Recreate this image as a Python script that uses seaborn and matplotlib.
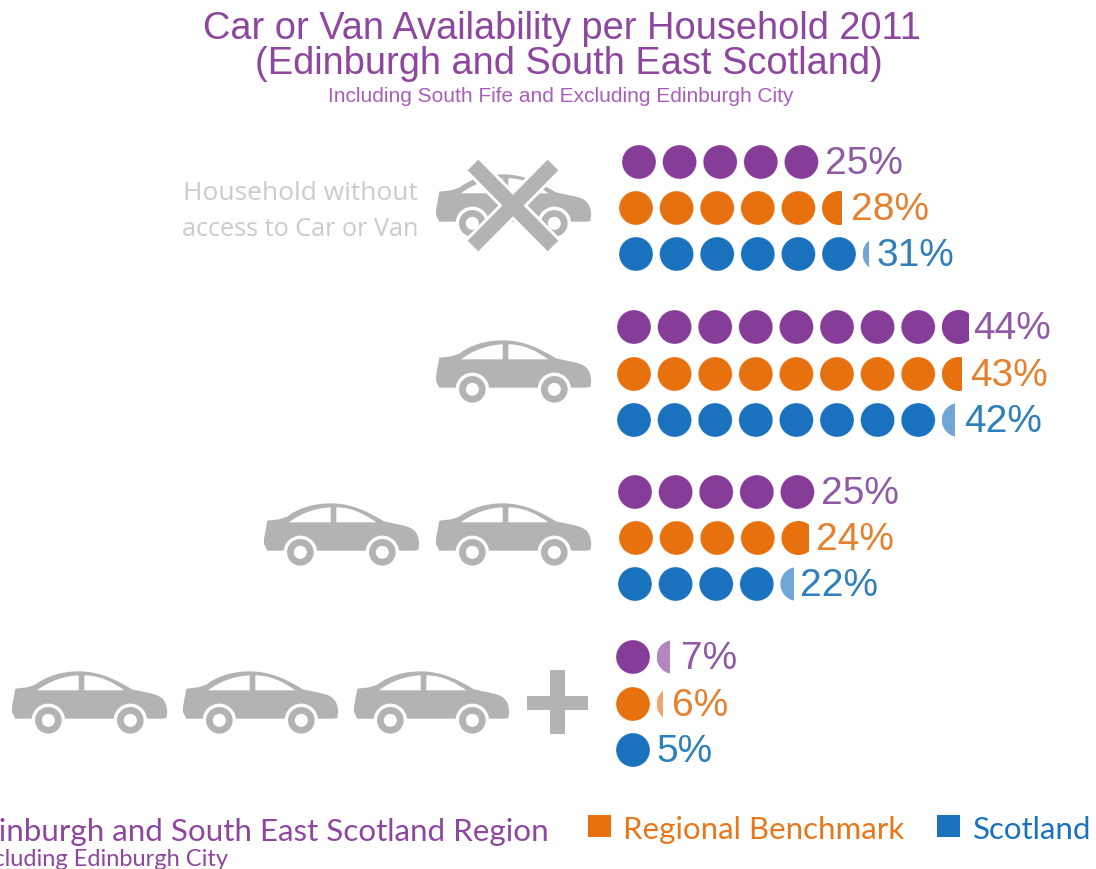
import matplotlib
matplotlib.use("Agg")
import matplotlib.pyplot as plt
from matplotlib.patches import Circle, PathPatch, Rectangle
from matplotlib.path import Path
import pandas as pd
import seaborn as sns

# ---- data ----
series = ["Edinburgh and South East Scotland Region", "Regional Benchmark", "Scotland"]
no_car = [25, 28, 31]
one_car = [44, 43, 42]
two_cars = [25, 24, 22]
three_plus = [7, 6, 5]
percent_per_dot = 5
title_lines = ["Car or Van Availability per Household 2011", "(Edinburgh and South East Scotland)"]
subtitle_text = "Including South Fife and Excluding Edinburgh City"
legend_sub = "Excluding Edinburgh City"

# ---- layout / style ----
PURPLE, ORANGE, BLUE, GREY = "#853D97", "#E8710F", "#1A72BE", "#B3B3B3"
palette = dict(zip(series, [PURPLE, ORANGE, BLUE]))
text_cols = dict(zip(series, ["#8F5AA3", "#E5812E", "#2F80BA"]))
SPACING, DIAM = 40.6, 34
groups = [
    (no_car, [163, 209, 255], [639, 636, 636], [825, 851, 877]),
    (one_car, [328, 375, 421], [634, 634, 634], [973, 970, 964]),
    (two_cars, [493, 539, 585], [635, 636, 635], [821, 816, 800]),
    (three_plus, [658, 705, 751], [633, 633, 633], [681, 672, 656]),
]

sns.set_theme(style="white")
plt.rcParams["font.family"] = ["Liberation Sans", "DejaVu Sans"]
fig = plt.figure(figsize=(10.96, 8.7), dpi=100)
ax = fig.add_axes([0, 0, 1, 1])

# dots: one dot per five percent, remainder is a clipped dot
rows = []
for values, ys, xs, lx in groups:
    for name, v, y, x0, tx in zip(series, values, ys, xs, lx):
        n = v // percent_per_dot
        frac = (v % percent_per_dot) / percent_per_dot
        for i in range(n):
            rows.append({"x": x0 + i * SPACING, "y": y, "series": name})
        if frac:
            cx = x0 + n * SPACING
            c = Circle((cx, y), DIAM / 2, fc=palette[name], ec="none",
                       alpha=1 if frac >= 0.5 else 0.62)
            ax.add_patch(c)
            c.set_clip_path(Rectangle((cx - DIAM / 2, y - DIAM), DIAM * frac, 2 * DIAM,
                                      transform=ax.transData))
        ax.text(tx, y + 1.5, f"{v}%", color=text_cols[name], fontsize=28,
                ha="left", va="center")
df = pd.DataFrame(rows)
sns.scatterplot(data=df, x="x", y="y", hue="series", palette=palette, s=(DIAM * 0.72) ** 2,
                linewidth=0.5, edgecolor="#ffffff66", legend=False, ax=ax, zorder=3, clip_on=False)
ax.set_xlim(0, 1096)
ax.set_ylim(870, 0)
ax.axis("off")

# car pictogram (outline in a 3x local grid)
M, L, C = Path.MOVETO, Path.LINETO, Path.CURVE4
body = [((15, 125), M), ((25, 70), L), ((60, 66), L), ((85, 58), L),
        ((120, 30), C), ((170, 18), C), ((215, 18), C),
        ((280, 18), C), ((330, 45), C), ((375, 72), C),
        ((410, 80), C), ((440, 84), C), ((455, 92), C),
        ((475, 102), C), ((482, 125), C), ((480, 145), C),
        ((478, 158), L), ((465, 160), L), ((25, 160), L), ((15, 140), L), ((15, 125), L)]
win1 = [((90, 75), M), ((125, 48), C), ((170, 32), C), ((215, 30), C), ((215, 75), L), ((90, 75), L)]
win2 = [((232, 30), M), ((280, 30), C), ((320, 52), C), ((352, 75), C), ((232, 75), L), ((232, 30), L)]
wheels = [(124, 165), (370, 165)]


def car(left, top):
    t = lambda p: (left + (p[0] - 18) / 3, top + (p[1] - 20) / 3)
    for shape, col, z in [(body, GREY, 2), (win1, "white", 2.1), (win2, "white", 2.1)]:
        path = Path([t(p) for p, _ in shape], [k for _, k in shape])
        ax.add_patch(PathPatch(path, fc=col, ec="none", zorder=z))
    for w in wheels:
        cx, cy = t(w)
        ax.add_patch(Circle((cx, cy), 16.7, fc="white", ec="none", zorder=2.2))
        ax.add_patch(Circle((cx, cy), 13.3, fc=GREY, ec="none", zorder=2.3))
        ax.add_patch(Circle((cx, cy), 6.5, fc="white", ec="none", zorder=2.4))


for left, top in [(437, 176), (437, 342), (265, 505), (437, 505), (13, 673), (184, 673), (355, 673)]:
    car(left, top)

# cross over first car
arms = [((473, 166), (553, 247)), ((553, 166), (473, 247))]
for a, b in arms:
    ax.plot([a[0], b[0]], [a[1], b[1]], color="white", lw=15, solid_capstyle="butt", zorder=2.5)
for a, b in arms:
    ax.plot([a[0], b[0]], [a[1], b[1]], color=GREY, lw=10.8, solid_capstyle="butt", zorder=2.6)

# plus sign
ax.add_patch(Rectangle((527, 697), 61, 14, fc=GREY, ec="none"))
ax.add_patch(Rectangle((550, 671), 15, 64, fc=GREY, ec="none"))

# texts
ax.text(562, 29, title_lines[0], color="#8E479F", fontsize=27.4, ha="center", va="center")
ax.text(569, 64, title_lines[1], color="#8E479F", fontsize=27.4, ha="center", va="center")
ax.text(561, 96, subtitle_text, color="#A95DBB", fontsize=15, ha="center", va="center")
ax.text(418, 193, "Household without", color="#CBCBCB", fontsize=19, ha="right", va="center", family="Open Sans")
ax.text(418, 229, "access to Car or Van", color="#CBCBCB", fontsize=18.2, ha="right", va="center", family="Open Sans")

# legend
ax.text(549, 832, series[0], color="#8E479F", fontsize=22.6, ha="right", va="center", family="Lato")
ax.text(228, 860, legend_sub, color="#8E479F", fontsize=17, ha="right", va="center", family="Lato")
ax.add_patch(Rectangle((588, 816), 23, 22, fc=ORANGE, ec="none"))
ax.text(623, 830, series[1], color="#E8761A", fontsize=22.5, ha="left", va="center", family="Lato")
ax.add_patch(Rectangle((937, 816), 23, 22, fc=BLUE, ec="none"))
ax.text(973, 830, series[2], color="#1A72BE", fontsize=22.5, ha="left", va="center", family="Lato")

fig.savefig("out.png", dpi=100)
